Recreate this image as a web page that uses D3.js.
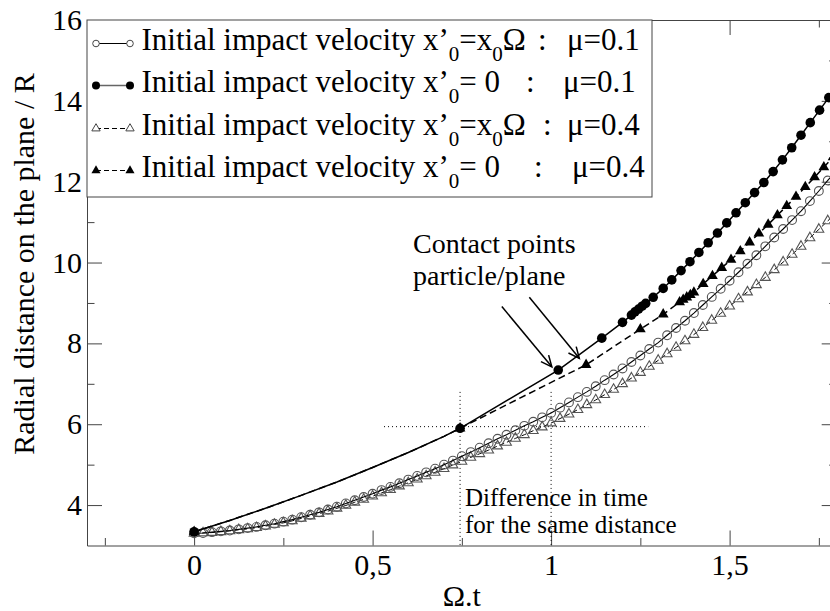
<!DOCTYPE html>
<html>
<head>
<meta charset="utf-8">
<script src="https://cdn.jsdelivr.net/npm/d3@7"></script>
<style>
  html, body { margin: 0; padding: 0; background: #fff; }
  svg { display: block; }
</style>
</head>
<body>
<svg id="chart" width="830" height="611"></svg>
<script>
// ---------------- data ----------------
const xMajorTicks = [0, 0.5, 1, 1.5];
const xMajorLabels = ["0", "0,5", "1", "1,5"];
const xMinorTicks = [-0.25, 0.25, 0.75, 1.25, 1.75];
const yMajorTicks = [4, 6, 8, 10, 12, 14, 16];
const yMajorLabels = ["4", "6", "8", "10", "12", "14", "16"];
const yMinorTicks = [5, 7, 9, 11, 13, 15];

// time grid for the densely sampled curves
const tGrid = [0, 0.025, 0.05, 0.075, 0.1, 0.125, 0.15, 0.175, 0.2, 0.225, 0.25, 0.275, 0.3, 0.325, 0.35, 0.375,
  0.4, 0.425, 0.45, 0.475, 0.5, 0.525, 0.55, 0.575, 0.6, 0.625, 0.65, 0.675, 0.7, 0.725, 0.75, 0.775,
  0.8, 0.825, 0.85, 0.875, 0.9, 0.925, 0.95, 0.975, 1.0, 1.025, 1.05, 1.075, 1.1, 1.125, 1.15, 1.175,
  1.2, 1.225, 1.25, 1.275, 1.3, 1.325, 1.35, 1.375, 1.4, 1.425, 1.45, 1.475, 1.5, 1.525, 1.55, 1.575,
  1.6, 1.625, 1.65, 1.675, 1.7, 1.725, 1.75, 1.775, 1.8];

// x'0 = x0 Omega, mu = 0.1 (open circles)
const rOpenMu01 = [3.30, 3.31, 3.33, 3.35, 3.37, 3.40, 3.43, 3.46, 3.50, 3.54, 3.59, 3.64, 3.70, 3.76, 3.82, 3.89,
  3.96, 4.04, 4.12, 4.20, 4.28, 4.37, 4.45, 4.54, 4.63, 4.72, 4.81, 4.90, 5.00, 5.10, 5.21, 5.31,
  5.42, 5.53, 5.64, 5.74, 5.85, 5.96, 6.06, 6.17, 6.28, 6.41, 6.54, 6.67, 6.80, 6.94, 7.09, 7.23,
  7.38, 7.54, 7.70, 7.86, 8.02, 8.20, 8.38, 8.56, 8.75, 8.95, 9.15, 9.35, 9.55, 9.76, 9.97, 10.18,
  10.40, 10.62, 10.83, 11.05, 11.27, 11.52, 11.77, 12.03, 12.30];

// x'0 = x0 Omega, mu = 0.4 (open triangles)
const rOpenMu04 = [3.30, 3.31, 3.32, 3.34, 3.36, 3.39, 3.41, 3.44, 3.48, 3.52, 3.56, 3.61, 3.67, 3.73, 3.79, 3.85,
  3.92, 3.99, 4.07, 4.14, 4.22, 4.30, 4.38, 4.47, 4.55, 4.64, 4.72, 4.81, 4.90, 4.99, 5.08, 5.18,
  5.27, 5.36, 5.46, 5.55, 5.65, 5.74, 5.84, 5.93, 6.03, 6.14, 6.25, 6.36, 6.48, 6.60, 6.73, 6.86,
  7.00, 7.14, 7.28, 7.43, 7.58, 7.74, 7.90, 8.06, 8.22, 8.39, 8.57, 8.74, 8.92, 9.10, 9.27, 9.45,
  9.63, 9.82, 10.01, 10.20, 10.40, 10.61, 10.82, 11.03, 11.25];

// x'0 = 0, mu = 0.1 : free flight (line only) then contact points (filled circles)
const flightT = [0, 0.1, 0.2, 0.3, 0.4, 0.5, 0.6, 0.7];
const flightR = [3.34, 3.62, 3.92, 4.24, 4.57, 4.93, 5.30, 5.70];
const contactMu01T = [0, 0.745, 1.02, 1.142, 1.2, 1.225, 1.235, 1.245, 1.255, 1.265, 1.286, 1.314, 1.338, 1.364,
  1.389, 1.414, 1.44, 1.466, 1.492, 1.518, 1.544, 1.57, 1.596, 1.622, 1.648, 1.674, 1.70, 1.726, 1.752, 1.778, 1.804];
const contactMu01R = [3.34, 5.90, 7.34, 8.13, 8.52, 8.70, 8.78, 8.85, 8.92, 8.99, 9.14, 9.36, 9.57, 9.80,
  10.02, 10.25, 10.49, 10.73, 10.98, 11.23, 11.48, 11.73, 11.98, 12.25, 12.54, 12.84, 13.15, 13.46, 13.77, 14.08, 14.40];

// x'0 = 0, mu = 0.4 : contact points (filled triangles)
const contactMu04T = [0, 0.745, 1.098, 1.25, 1.314, 1.36, 1.37, 1.38, 1.39, 1.40, 1.426, 1.452, 1.478, 1.504,
  1.530, 1.556, 1.582, 1.608, 1.634, 1.660, 1.686, 1.712, 1.738, 1.764, 1.790, 1.816];
const contactMu04R = [3.34, 5.90, 7.47, 8.35, 8.72, 9.02, 9.08, 9.14, 9.20, 9.26, 9.47, 9.67, 9.87, 10.07,
  10.28, 10.50, 10.72, 10.94, 11.17, 11.40, 11.63, 11.87, 12.11, 12.36, 12.61, 12.86];

// annotation geometry (data units)
const sameDistance = 5.94;
const hLineT = [0.532, 1.272];
const vLineT = [0.745, 1.0];
const vLineTop = 6.8;
const arrowFrom = [[0.862, 8.91], [0.939, 9.14]];
const arrowTo = [[1.002, 7.42], [1.079, 7.63]];

const legendMu = ["\u03bc=0.1", "\u03bc=0.1", "\u03bc=0.4", "\u03bc=0.4"];
// each legend label: pieces [text, isSubscript]
const legendParts = [
  [["Initial impact velocity x\u2019", 0], ["0", 1], ["=x", 0], ["0", 1], ["\u03a9", 0]],
  [["Initial impact velocity x\u2019", 0], ["0", 1], ["= 0", 0]],
  [["Initial impact velocity x\u2019", 0], ["0", 1], ["=x", 0], ["0", 1], ["\u03a9", 0]],
  [["Initial impact velocity x\u2019", 0], ["0", 1], ["= 0", 0]]
];

// ---------------- drawing ----------------
const FONT = "'Liberation Serif', 'Times New Roman', Times, serif";
const svg = d3.select("#chart").attr("font-family", FONT);
const L = 87, R = 836.7, T = 20, B = 545.5;
const x = d3.scaleLinear().domain([-0.3, 1.8]).range([L, R]);
const y = d3.scaleLinear().domain([3, 16]).range([B, T]);

svg.append("rect").attr("width", 830).attr("height", 611).attr("fill", "#fff");

svg.append("defs").append("clipPath").attr("id", "plotclip")
  .append("rect").attr("x", L).attr("y", T).attr("width", R - L).attr("height", B - T);

const axisColor = "#444";
function styleAxis(g) {
  g.attr("font-family", FONT);
  g.selectAll("path.domain").attr("stroke", axisColor).attr("stroke-width", 1);
  g.selectAll(".tick line").attr("stroke", axisColor).attr("stroke-width", 1);
}

// bottom axis
const gx = svg.append("g").attr("transform", `translate(0,${B})`)
  .call(d3.axisBottom(x).tickValues(xMajorTicks).tickSize(-15).tickSizeOuter(0)
    .tickFormat((d, i) => xMajorLabels[i]));
gx.selectAll(".tick text").attr("y", 29.5).attr("dy", 0)
  .attr("font-family", FONT).attr("font-size", 30).attr("fill", "#000");
styleAxis(gx);
const gxm = svg.append("g").attr("transform", `translate(0,${B})`)
  .call(d3.axisBottom(x).tickValues(xMinorTicks).tickSize(-7.5).tickSizeOuter(0).tickFormat(""));
gxm.select("path.domain").remove();
styleAxis(gxm);

// top axis (mirror ticks)
const gt = svg.append("g").attr("transform", `translate(0,${T})`)
  .call(d3.axisTop(x).tickValues(xMajorTicks).tickSize(-15).tickSizeOuter(0).tickFormat(""));
styleAxis(gt);
const gtm = svg.append("g").attr("transform", `translate(0,${T})`)
  .call(d3.axisTop(x).tickValues(xMinorTicks).tickSize(-7.5).tickSizeOuter(0).tickFormat(""));
gtm.select("path.domain").remove();
styleAxis(gtm);

// left axis
const gy = svg.append("g").attr("transform", `translate(${L},0)`)
  .call(d3.axisLeft(y).tickValues(yMajorTicks).tickSize(-15).tickSizeOuter(0)
    .tickFormat((d, i) => yMajorLabels[i]));
gy.selectAll(".tick text").attr("x", -5).attr("dy", "0.32em")
  .attr("font-family", FONT).attr("font-size", 30).attr("fill", "#000");
styleAxis(gy);
const gym = svg.append("g").attr("transform", `translate(${L},0)`)
  .call(d3.axisLeft(y).tickValues(yMinorTicks).tickSize(-7.5).tickSizeOuter(0).tickFormat(""));
gym.select("path.domain").remove();
styleAxis(gym);

// right axis (mirror ticks)
const gr = svg.append("g").attr("transform", `translate(${R},0)`)
  .call(d3.axisRight(y).tickValues(yMajorTicks).tickSize(-15).tickSizeOuter(0).tickFormat(""));
styleAxis(gr);
const grm = svg.append("g").attr("transform", `translate(${R},0)`)
  .call(d3.axisRight(y).tickValues(yMinorTicks).tickSize(-7.5).tickSizeOuter(0).tickFormat(""));
grm.select("path.domain").remove();
styleAxis(grm);

// axis titles
svg.append("text").attr("x", (L + R) / 2).attr("y", 606).attr("text-anchor", "middle")
  .attr("font-family", FONT).attr("font-size", 30).text("\u03a9.t");
svg.append("text").attr("transform", `translate(34,${264}) rotate(-90)`).attr("text-anchor", "middle")
  .attr("font-family", FONT).attr("font-size", 30).text("Radial distance on the plane / R");

// plot content
const plot = svg.append("g").attr("clip-path", "url(#plotclip)");

// annotation dotted lines
plot.append("line").attr("x1", x(hLineT[0])).attr("x2", x(hLineT[1]))
  .attr("y1", y(sameDistance)).attr("y2", y(sameDistance))
  .attr("stroke", "#000").attr("stroke-width", 1).attr("stroke-dasharray", "1,3");
vLineT.forEach(t => {
  plot.append("line").attr("x1", x(t)).attr("x2", x(t)).attr("y1", y(vLineTop)).attr("y2", y(3))
    .attr("stroke", "#000").attr("stroke-width", 1).attr("stroke-dasharray", "1,3");
});

const line = d3.line().x(d => x(d[0])).y(d => y(d[1]));
const zip = (a, b) => a.map((v, i) => [v, b[i]]);

const openMu01 = zip(tGrid, rOpenMu01);
const openMu04 = zip(tGrid, rOpenMu04);
const flight = zip(flightT, flightR);
const cMu01 = zip(contactMu01T, contactMu01R);
const cMu04 = zip(contactMu04T, contactMu04R);
const lineMu01 = flight.concat(cMu01.slice(1));
const lineMu04 = flight.concat(cMu04.slice(1));

const triOpen = d3.symbol().type(d3.symbolTriangle).size(42);
const triFilled = d3.symbol().type(d3.symbolTriangle).size(50);

// open triangles mu=0.4
plot.append("path").attr("d", line(openMu04)).attr("fill", "none").attr("stroke", "#000")
  .attr("stroke-width", 1).attr("stroke-dasharray", "5,3");
plot.selectAll(".ot").data(openMu04).enter().append("path")
  .attr("transform", d => `translate(${x(d[0])},${y(d[1])})`).attr("d", triOpen)
  .attr("fill", "none").attr("stroke", "#555").attr("stroke-width", 1.1);

// open circles mu=0.1
plot.append("path").attr("d", line(openMu01)).attr("fill", "none").attr("stroke", "#000").attr("stroke-width", 1.1);
plot.selectAll(".oc").data(openMu01).enter().append("circle")
  .attr("cx", d => x(d[0])).attr("cy", d => y(d[1])).attr("r", 4.4)
  .attr("fill", "none").attr("stroke", "#555").attr("stroke-width", 1.1);

// filled triangles mu=0.4
plot.append("path").attr("d", line(lineMu04)).attr("fill", "none").attr("stroke", "#000")
  .attr("stroke-width", 1.5).attr("stroke-dasharray", "7,4");
plot.selectAll(".ft").data(cMu04).enter().append("path")
  .attr("transform", d => `translate(${x(d[0])},${y(d[1])})`).attr("d", triFilled).attr("fill", "#000");

// filled circles mu=0.1
plot.append("path").attr("d", line(lineMu01)).attr("fill", "none").attr("stroke", "#000").attr("stroke-width", 1.5);
plot.selectAll(".fc").data(cMu01).enter().append("circle")
  .attr("cx", d => x(d[0])).attr("cy", d => y(d[1])).attr("r", 4.8).attr("fill", "#000");

// arrows
const defs = svg.select("defs");
defs.append("marker").attr("id", "arrowhead").attr("viewBox", "-12 -6 14 12")
  .attr("refX", 0).attr("refY", 0).attr("markerWidth", 14).attr("markerHeight", 12)
  .attr("markerUnits", "userSpaceOnUse").attr("orient", "auto")
  .append("path").attr("d", "M-11,-5 L0,0 L-11,5").attr("fill", "none").attr("stroke", "#000").attr("stroke-width", 1.5);
arrowFrom.forEach((f, i) => {
  svg.append("line").attr("x1", x(f[0])).attr("y1", y(f[1]))
    .attr("x2", x(arrowTo[i][0])).attr("y2", y(arrowTo[i][1]))
    .attr("stroke", "#000").attr("stroke-width", 1.5).attr("marker-end", "url(#arrowhead)");
});

// annotation texts
svg.append("text").attr("x", 413).attr("y", 253).attr("font-family", FONT).attr("font-size", 28).text("Contact points");
svg.append("text").attr("x", 413).attr("y", 285).attr("font-family", FONT).attr("font-size", 28).text("particle/plane");
svg.append("text").attr("x", 465).attr("y", 506).attr("font-family", FONT).attr("font-size", 25).text("Difference in time");
svg.append("text").attr("x", 465).attr("y", 533).attr("font-family", FONT).attr("font-size", 25).text("for the same distance");

// legend
const lg = svg.append("g");
lg.append("rect").attr("x", L).attr("y", T).attr("width", 652 - L).attr("height", 197 - T)
  .attr("fill", "#fff").attr("stroke", "#444").attr("stroke-width", 1);
const rowBase = [50, 92, 135, 177];
const colonX = [538, 526, 543, 534];
const muX = [567, 563, 567, 572];
const symStyles = [
  { kind: "circle", filled: false, dash: null, lw: 1, col: "#000" },
  { kind: "circle", filled: true, dash: null, lw: 1.5, col: "#666" },
  { kind: "tri", filled: false, dash: "5,3", lw: 1, col: "#000" },
  { kind: "tri", filled: true, dash: "5,3", lw: 1, col: "#000" }
];
legendParts.forEach((parts, i) => {
  const yb = rowBase[i];
  const ys = yb - 6.5;
  const s = symStyles[i];
  lg.append("line").attr("x1", 96).attr("x2", 130).attr("y1", ys).attr("y2", ys)
    .attr("stroke", s.col).attr("stroke-width", s.lw).attr("stroke-dasharray", s.dash);
  [96, 130].forEach(cx => {
    if (s.kind === "circle") {
      lg.append("circle").attr("cx", cx).attr("cy", ys).attr("r", s.filled ? 4 : 3.3)
        .attr("fill", s.filled ? "#000" : "#fff").attr("stroke", s.filled ? "none" : "#444").attr("stroke-width", 1);
    } else {
      lg.append("path").attr("transform", `translate(${cx},${ys})`)
        .attr("d", d3.symbol().type(d3.symbolTriangle).size(s.filled ? 36 : 30))
        .attr("fill", s.filled ? "#000" : "#fff").attr("stroke", s.filled ? "none" : "#444").attr("stroke-width", 1);
    }
  });
  const t = lg.append("text").attr("x", 141.5).attr("y", yb).attr("font-family", FONT).attr("font-size", 31);
  let prevSub = 0;
  parts.forEach(p => {
    const sp = t.append("tspan").text(p[0]);
    if (p[1] && !prevSub) sp.attr("dy", 11).attr("font-size", 21);
    else if (!p[1] && prevSub) sp.attr("dy", -11);
    else if (p[1]) sp.attr("font-size", 21);
    prevSub = p[1];
  });
  lg.append("text").attr("x", colonX[i]).attr("y", yb).attr("font-family", FONT).attr("font-size", 31).text(":");
  lg.append("text").attr("x", muX[i]).attr("y", yb).attr("font-family", FONT).attr("font-size", 31).text(legendMu[i]);
});
</script>
</body>
</html>
